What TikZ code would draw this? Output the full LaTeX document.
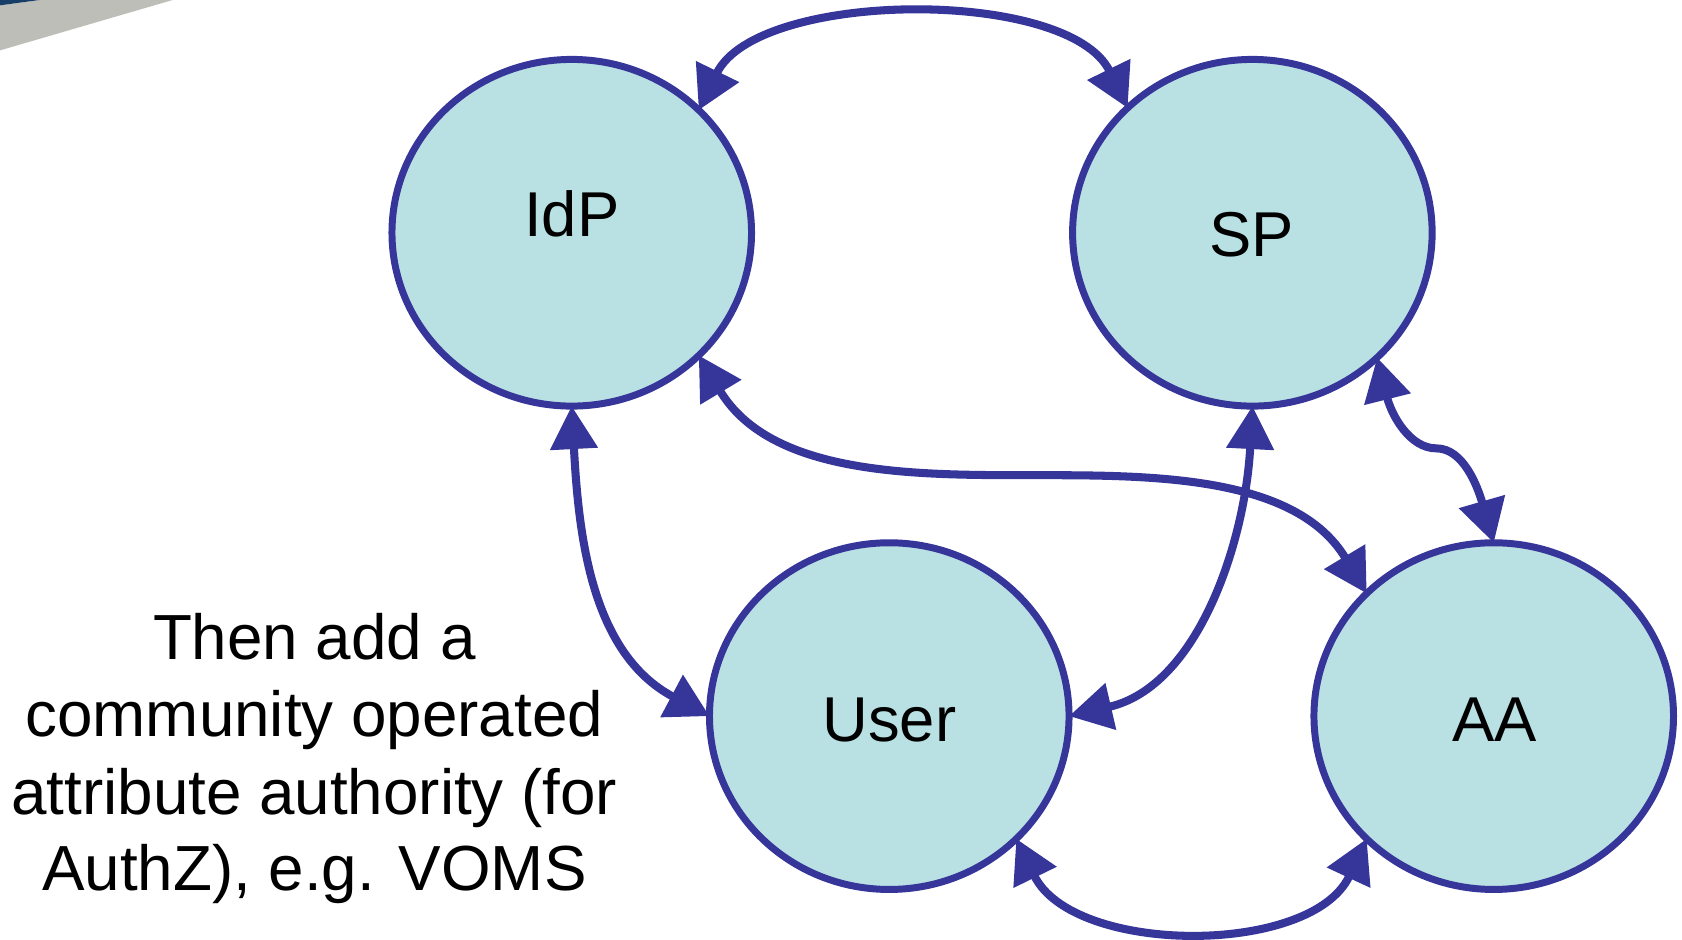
\documentclass[tikz,border=0pt]{standalone}
\usepackage{fontspec}
\setmainfont{Liberation Sans}
\usetikzlibrary{arrows.meta,shapes.geometric}
\definecolor{navy}{RGB}{53,53,154}
\definecolor{teal}{RGB}{185,224,227}
\definecolor{cornergray}{RGB}{190,190,184}
\definecolor{cornerblue}{RGB}{22,62,102}
\tikzset{
  ell/.style={ellipse, draw=navy, fill=teal, line width=0.065cm, minimum width=3.35cm, minimum height=3.23cm, inner sep=0pt, outer sep=0pt},
  lbl/.style={font=\fontsize{16.8}{20}\selectfont, anchor=base, inner sep=0pt},
  side/.style={font=\fontsize{16.9}{20}\selectfont, anchor=base, inner sep=0pt},
  arr/.style={draw=navy, line width=0.075cm, {Triangle[length=0.40cm,width=0.43cm]}-{Triangle[length=0.40cm,width=0.43cm]}}
}
\begin{document}
\begin{tikzpicture}[x=0.01cm,y=0.01cm]
\useasboundingbox (0,0) rectangle (1568,876);
% corner decoration
\fill[cornergray] (0,871) -- (37,876) -- (161,876) -- (0,829) -- cycle;
\fill[cornerblue] (0,876) -- (37,876) -- (0,871) -- cycle;
% ellipses
\node[ell] (idp) at (533,659) {};
\node[ell] (sp) at (1167.5,659) {};
\node[ell] (user) at (829,208.4) {};
\node[ell] (aa) at (1392.5,208.4) {};
% labels
\node[lbl] (idpt) at (533,655.3) {IdP};
\node[lbl] (spt) at (1167,637) {SP};
\node[lbl] (usert) at (829,185) {User};
\node[lbl] (aat) at (1393,185) {AA};
% side text
\node[side] (t1) at (293,261) {Then add a};
\node[side] (t2) at (293,189) {community operated};
\node[side] (t3) at (293,117) {attribute authority (for};
\node[side] (t4) at (293,46) {AuthZ), e.g. VOMS};
% connectors
\draw[arr] (idp.44) to[out=64,in=116,looseness=0.8] (sp.135);
\draw[arr] (idp.-90) to[out=-87,in=152,looseness=1] (user.180);
\draw[arr] (sp.-90) to[out=-93,in=13,looseness=0.95] (user.0);
\draw[arr] (idp.-44) .. controls +(-59:130) and +(180:110) .. (960,433) .. controls +(0:110) and +(121:130) .. (aa.136);
\draw[arr] (sp.-45) .. controls +(-76:55) and +(180:25) .. (1339,458) .. controls +(0:25) and +(106:55) .. (aa.90);
\draw[arr] (user.-44) to[out=-64,in=-115,looseness=0.95] (aa.-136);
\end{tikzpicture}
\end{document}
